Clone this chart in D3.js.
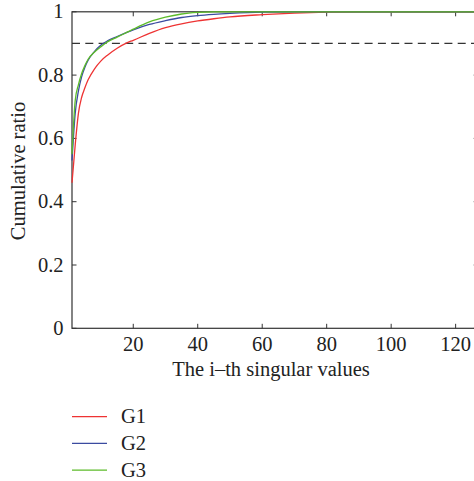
<!DOCTYPE html>
<html>
<head>
<meta charset="utf-8">
<script src="https://cdn.jsdelivr.net/npm/d3@7"></script>
<style>
  body { margin: 0; background: #fff; }
</style>
</head>
<body>
<svg id="chart" width="474" height="481"></svg>
<script>
// singular value index and cumulative ratio
const idx = [1, 2, 3, 4, 5, 6, 8, 10, 12, 15, 18, 20, 25, 30, 35, 40, 45, 50, 60, 70, 80, 90, 100, 110, 120, 127]
const g1 = [0.46, 0.58, 0.68, 0.73, 0.76, 0.785, 0.82, 0.845, 0.863, 0.885, 0.902, 0.91, 0.932, 0.95, 0.962, 0.971, 0.978, 0.984, 0.991, 0.996, 0.999, 1, 1, 1, 1, 1]
const g2 = [0.53, 0.68, 0.75, 0.795, 0.825, 0.847, 0.875, 0.895, 0.908, 0.922, 0.935, 0.943, 0.96, 0.972, 0.982, 0.988, 0.992, 0.995, 0.999, 1, 1, 1, 1, 1, 1, 1]
const g3 = [0.55, 0.72, 0.77, 0.805, 0.83, 0.85, 0.873, 0.89, 0.905, 0.92, 0.935, 0.945, 0.968, 0.983, 0.993, 0.998, 1, 1, 1, 1, 1, 1, 1, 1, 1, 1]
const seriesNames = ['G1', 'G2', 'G3']
const seriesColors = ['#ee3333', '#3b4ba0', '#5cbb2a']
const xTicks = [20, 40, 60, 80, 100, 120]
const yTicks = [0, 0.2, 0.4, 0.6, 0.8, 1]
const threshold = 0.9

const svg = d3.select('#chart')
const x = d3.scaleLinear().domain([1, 127]).range([72, 478.2])
const y = d3.scaleLinear().domain([0, 1]).range([328.3, 11.8])
const axisColor = '#333'
const font = '20.5px "Liberation Serif", "Times New Roman", serif'

function label(sel) {
  return sel.style('font', font).attr('fill', '#222')
}

// box frame
svg.append('rect')
  .attr('x', x(1)).attr('y', y(1))
  .attr('width', x(127) - x(1)).attr('height', y(0) - y(1))
  .attr('fill', 'none').attr('stroke', axisColor).attr('stroke-width', 1.2)

// inward ticks on all four sides
const tk = 4.5
xTicks.forEach(t => {
  svg.append('line').attr('x1', x(t)).attr('x2', x(t)).attr('y1', y(0)).attr('y2', y(0) - tk).attr('stroke', axisColor)
  svg.append('line').attr('x1', x(t)).attr('x2', x(t)).attr('y1', y(1)).attr('y2', y(1) + tk).attr('stroke', axisColor)
  label(svg.append('text').attr('x', x(t)).attr('y', 351)
    .attr('text-anchor', 'middle').text(t))
})
yTicks.forEach(t => {
  svg.append('line').attr('x1', x(1)).attr('x2', x(1) + tk).attr('y1', y(t)).attr('y2', y(t)).attr('stroke', axisColor)
  svg.append('line').attr('x1', x(127)).attr('x2', x(127) - tk).attr('y1', y(t)).attr('y2', y(t)).attr('stroke', axisColor)
  label(svg.append('text').attr('x', 63.5).attr('y', y(t) + 6.5)
    .attr('text-anchor', 'end').text(t))
})

// 90% line
svg.append('line')
  .attr('x1', x(1)).attr('x2', x(127)).attr('y1', y(threshold)).attr('y2', y(threshold))
  .attr('stroke', axisColor).attr('stroke-width', 1.2).attr('stroke-dasharray', '8,5.3')

const line = d3.line().x((d, i) => x(idx[i])).y(d => y(d)).curve(d3.curveMonotoneX)
const allSeries = [g1, g2, g3]
allSeries.forEach((s, k) => {
  svg.append('path').datum(s).attr('d', line)
    .attr('fill', 'none').attr('stroke', seriesColors[k]).attr('stroke-width', 1.3)
})

// axis titles
label(svg.append('text').attr('x', 271).attr('y', 376)
  .attr('text-anchor', 'middle').text('The i\u2013th singular values'))
label(svg.append('text')
  .attr('transform', 'translate(25,171) rotate(-90)')
  .attr('text-anchor', 'middle').text('Cumulative ratio'))

// legend
seriesNames.forEach((n, k) => {
  const ly = 416.7 + k * 26.7
  svg.append('line').attr('x1', 72).attr('x2', 107).attr('y1', ly).attr('y2', ly)
    .attr('stroke', seriesColors[k]).attr('stroke-width', 1.3)
  label(svg.append('text').attr('x', 121).attr('y', ly + 6.5).text(n))
})
</script>
</body>
</html>
